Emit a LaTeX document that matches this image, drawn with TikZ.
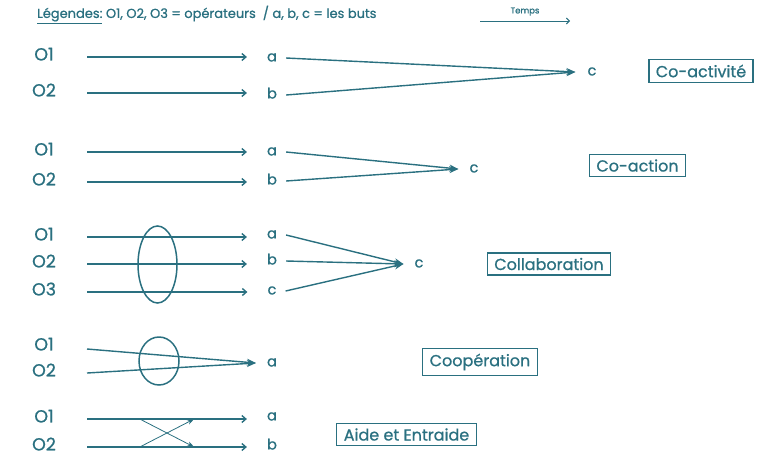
\documentclass[tikz,border=0pt]{standalone}
\usepackage{fontspec}
\setmainfont{Poppins}[FakeBold=0.8]
\usetikzlibrary{arrows.meta}
\definecolor{teal1}{RGB}{42,112,128}
\begin{document}
\begin{tikzpicture}[x=1pt,y=-1pt,
  txt/.style={text=teal1, inner sep=0pt, text height=1.5ex, text depth=.25ex},
  op/.style={txt, font=\fontsize{17.5}{18}\selectfont},
  goal/.style={txt, font=\fontsize{14.5}{15}\selectfont},
  lbl/.style={draw=teal1, line width=1.4pt, text=teal1, inner xsep=7pt, inner ysep=5pt, font=\fontsize{16}{17}\selectfont},
  arr/.style={draw=teal1, line width=1.4pt, -{Straight Barb[length=4pt,width=7pt,line width=1.4pt]}},
  conv/.style={draw=teal1, line width=1.4pt, -{Stealth[length=9pt,width=7pt]}},
  smallarr/.style={draw=teal1, line width=0.8pt, -{Stealth[length=7pt,width=5pt]}},
  ring/.style={draw=teal1, line width=1.5pt}]
\useasboundingbox (0,0) rectangle (759,459);
% legend
\node[txt, anchor=west, font=\fontsize{13}{14}\selectfont] (leg) at (37,14.5) {\underline{Légendes:} O1, O2, O3 = opérateurs \ / a, b, c = les buts};
\node[txt, font=\fontsize{8.5}{9}\selectfont] (temps) at (525,10) {Temps};
\coordinate (t1) at (480,21); \coordinate (t2) at (570,21);
\draw[draw=teal1, line width=0.9pt, -{Straight Barb[length=3pt,width=6pt]}] (t1) -- (t2);
% group 1
\node[op] (g1o1) at (44,57) {O1};
\node[op] (g1o2) at (44,93) {O2};
\node[goal] (g1a) at (272,58) {a};
\node[goal] (g1b) at (272,95) {b};
\node[goal] (g1c) at (592,72) {c};
\node[lbl] (g1l) at (701,71) {Co-activité};
\draw[arr] ([xshift=43pt]g1o1.center) -- ([xshift=-20pt]g1a.west |- g1o1.center);
\draw[arr] ([xshift=43pt]g1o2.center) -- ([xshift=-20pt]g1b.west |- g1o2.center);
\draw[conv] ([xshift=9pt]g1a.east) -- ([xshift=-12pt]g1c.west);
\draw[conv] ([xshift=9pt]g1b.east) -- ([xshift=-12pt]g1c.west);
% group 2
\node[op] (g2o1) at (44,152) {O1};
\node[op] (g2o2) at (44,182) {O2};
\node[goal] (g2a) at (272,152) {a};
\node[goal] (g2b) at (272,181) {b};
\node[goal] (g2c) at (474,169) {c};
\node[lbl] (g2l) at (637.5,165.5) {Co-action};
\draw[arr] ([xshift=43pt]g2o1.center) -- ([xshift=-20pt]g2a.west |- g2o1.center);
\draw[arr] ([xshift=43pt]g2o2.center) -- ([xshift=-20pt]g2b.west |- g2o2.center);
\draw[conv] ([xshift=9pt]g2a.east) -- ([xshift=-11pt]g2c.west);
\draw[conv] ([xshift=9pt]g2b.east) -- ([xshift=-11pt]g2c.west);
% group 3
\node[op] (g3o1) at (44,237) {O1};
\node[op] (g3o2) at (44,264) {O2};
\node[op] (g3o3) at (44,292) {O3};
\node[goal] (g3a) at (272,235) {a};
\node[goal] (g3b) at (272,261) {b};
\node[goal] (g3c) at (272,291) {c};
\node[goal] (g3d) at (419,264) {c};
\node[lbl] (g3l) at (549,264) {Collaboration};
\draw[arr] ([xshift=43pt]g3o1.center) -- ([xshift=-20pt]g3a.west |- g3o1.center);
\draw[arr] ([xshift=43pt]g3o2.center) -- ([xshift=-20pt]g3b.west |- g3o2.center);
\draw[arr] ([xshift=43pt]g3o3.center) -- ([xshift=-20pt]g3c.west |- g3o3.center);
\draw[conv] ([xshift=9pt]g3a.east) -- ([xshift=-11pt]g3d.west);
\draw[conv] ([xshift=9pt]g3b.east) -- ([xshift=-11pt]g3d.west);
\draw[conv] ([xshift=9pt]g3c.east) -- ([xshift=-11pt]g3d.west);
\draw[ring] (157.5,264.5) ellipse [x radius=19.5, y radius=38.5];
% group 4
\node[op] (g4o1) at (44,347) {O1};
\node[op] (g4o2) at (44,373) {O2};
\node[goal] (g4a) at (272,363) {a};
\node[lbl] (g4l) at (480,362) {Coopération};
\draw[conv] ([xshift=43pt,yshift=-2pt]g4o1.center) -- ([xshift=-11pt]g4a.west);
\draw[conv] ([xshift=43pt]g4o2.center) -- ([xshift=-11pt]g4a.west);
\draw[ring] (159,361) ellipse [x radius=20, y radius=24];
% group 5
\node[op] (g5o1) at (44,419) {O1};
\node[op] (g5o2) at (44,447) {O2};
\node[goal] (g5a) at (272,417) {a};
\node[goal] (g5b) at (272,446) {b};
\node[lbl] (g5l) at (406.5,434.5) {Aide et Entraide};
\draw[arr] ([xshift=43pt]g5o1.center) -- ([xshift=-20pt]g5a.west |- g5o1.center) coordinate[pos=0.33] (x1) coordinate[pos=0.67] (y1);
\draw[arr] ([xshift=43pt]g5o2.center) -- ([xshift=-20pt]g5b.west |- g5o2.center) coordinate[pos=0.33] (x2) coordinate[pos=0.67] (y2);
\draw[smallarr] (x1) -- (y2);
\draw[smallarr] (x2) -- (y1);
\end{tikzpicture}
\end{document}
